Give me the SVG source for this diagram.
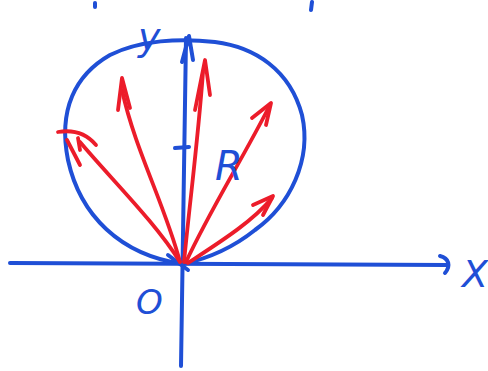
<svg xmlns="http://www.w3.org/2000/svg" width="488" height="371" viewBox="0 0 488 371">
<style>
.b{fill:none;stroke:#1f4fd6;stroke-width:4;stroke-linecap:round;stroke-linejoin:round}
.r{fill:none;stroke:#ec1c2a;stroke-width:3.8;stroke-linecap:round;stroke-linejoin:round}
.t{fill:#1f4fd6;font-family:"DejaVu Sans","Liberation Sans",sans-serif;font-style:italic}
</style>
<rect width="488" height="371" fill="#fff"/>
<g id="marks">
<path class="b" d="M95 3 L95 7"/>
<path class="b" d="M312 2 L311 10"/>
</g>
<g id="circle">
<path class="b" d="M183 264 C120 255 80 215 68 160 C58 110 75 75 110 55 C140 40 180 38 215 42 C255 47 290 70 302 115 C312 160 290 205 255 230 C235 246 210 258 183 264"/>
</g>
<g id="axes">
<path class="b" d="M10 263 L448 265"/>
<path class="b" d="M440 256 C449 258 451 266 445 273"/>
<path class="b" d="M181 366 L186 38"/>
<path class="b" d="M182 62 L189 36 L193 60"/>
<path class="b" d="M175 148 L189 147"/>
<path class="b" d="M168 255 L188 270"/>
</g>
<g id="connectors">
<path class="r" d="M180 262 C155 222 112 180 80 142"/>
<path class="r" d="M58 132 C70 130 85 132 96 145 M78 138 L80 150 M67 140 L80 165"/>
<path class="r" d="M180 262 C165 205 135 150 122 90"/>
<path class="r" d="M118 110 L122 78 L130 108"/>
<path class="r" d="M184 262 C190 200 198 140 203 72"/>
<path class="r" d="M195 110 L205 60 L210 95"/>
<path class="r" d="M186 262 C210 210 242 160 270 105"/>
<path class="r" d="M252 118 L271 103 L266 125"/>
<path class="r" d="M188 263 C220 242 252 222 272 198"/>
<path class="r" d="M253 205 L273 196 L263 215"/>
</g>
<g id="labels">
<text class="t" x="138" y="50" font-size="38">y</text>
<text class="t" x="215" y="180" font-size="40">R</text>
<text class="t" x="462" y="287" font-size="38">X</text>
<text class="t" x="136" y="314" font-size="34">O</text>
</g>
</svg>
